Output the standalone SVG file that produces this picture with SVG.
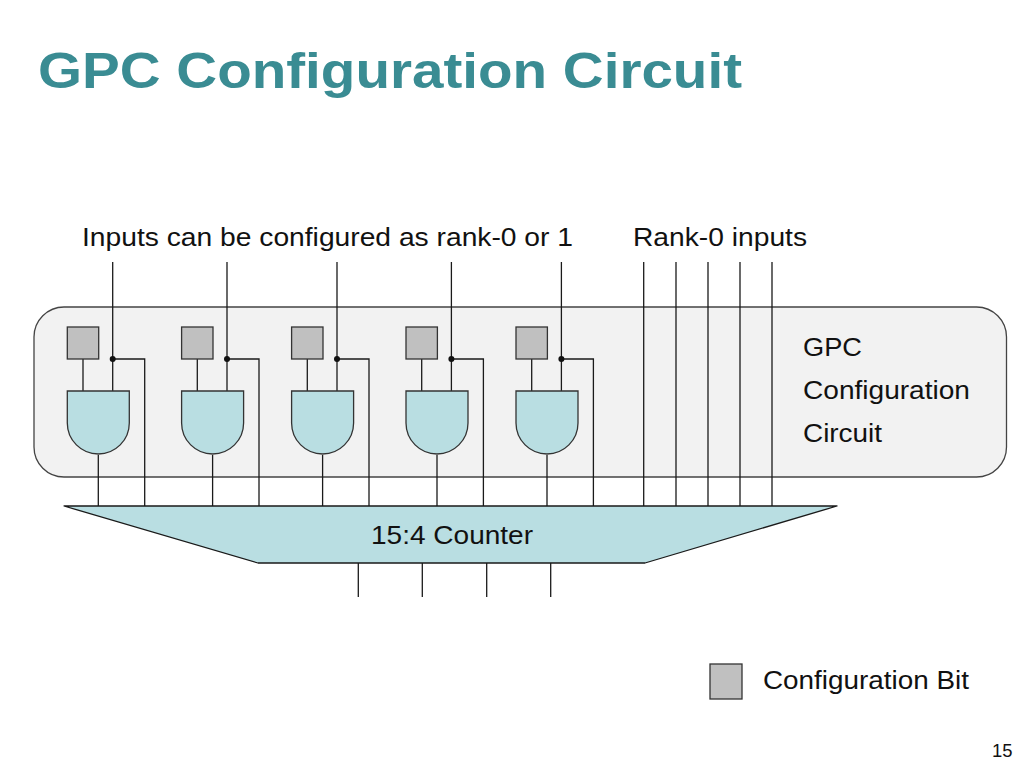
<svg xmlns="http://www.w3.org/2000/svg" width="1024" height="768" viewBox="0 0 1024 768">
<defs>
<style>
.t{font-family:"Liberation Sans",Arial,sans-serif;fill:#111;font-size:25px}
.title{font-family:"Liberation Sans",Arial,sans-serif;font-weight:bold;font-size:50px;fill:#3A8C93}
.w{stroke:#1a1a1a;stroke-width:1.3;fill:none}
.bit{fill:#C0C0C0;stroke:#333;stroke-width:1.3}
.gate{fill:#B9DEE2;stroke:#333;stroke-width:1.3}
</style>
<g id="unit">
<line class="w" x1="83" y1="359" x2="83" y2="391"/>
<line class="w" x1="112.7" y1="262" x2="112.7" y2="391"/>
<polyline class="w" points="112.7,359 144.7,359 144.7,506"/>
<line class="w" x1="98.3" y1="455" x2="98.3" y2="506"/>
<rect class="bit" x="67.3" y="327" width="31.4" height="32"/>
<path class="gate" d="M67.3,391 H129.3 V423 A31,31 0 0 1 67.3,423 Z"/>
<circle cx="112.7" cy="359" r="3" fill="#111"/>
</g>
</defs>
<rect width="1024" height="768" fill="#fff"/>
<text class="title" x="38" y="88" textLength="704" lengthAdjust="spacingAndGlyphs">GPC Configuration Circuit</text>
<text class="t" x="82" y="246" textLength="491" lengthAdjust="spacingAndGlyphs">Inputs can be configured as rank-0 or 1</text>
<text class="t" x="633" y="246" textLength="174" lengthAdjust="spacingAndGlyphs">Rank-0 inputs</text>
<g id="config-circuit">
<rect x="34" y="307" width="972.5" height="170" rx="30" ry="30" fill="#F2F2F2" stroke="#444" stroke-width="1.3"/>
<text class="t" x="803" y="356" textLength="59" lengthAdjust="spacingAndGlyphs">GPC</text>
<text class="t" x="803" y="399" textLength="167" lengthAdjust="spacingAndGlyphs">Configuration</text>
<text class="t" x="803" y="442" textLength="79" lengthAdjust="spacingAndGlyphs">Circuit</text>
</g>
<g id="counter">
<polygon points="64,506 837,506 645,563 258,563" fill="#B9DEE2" stroke="#1a1a1a" stroke-width="1.3" stroke-linejoin="round"/>
<text class="t" x="371" y="544" textLength="162" lengthAdjust="spacingAndGlyphs">15:4 Counter</text>
</g>
<g id="unit1"><use href="#unit"/></g>
<g id="unit2"><use href="#unit" transform="translate(114.3,0)"/></g>
<g id="unit3"><use href="#unit" transform="translate(224.3,0)"/></g>
<g id="unit4"><use href="#unit" transform="translate(338.7,0)"/></g>
<g id="unit5"><use href="#unit" transform="translate(448.7,0)"/></g>
<g id="connectors">
<line class="w" x1="643.7" y1="262" x2="643.7" y2="506"/>
<line class="w" x1="676" y1="262" x2="676" y2="506"/>
<line class="w" x1="708" y1="262" x2="708" y2="506"/>
<line class="w" x1="740" y1="262" x2="740" y2="506"/>
<line class="w" x1="772" y1="262" x2="772" y2="506"/>
<line class="w" x1="358.3" y1="563" x2="358.3" y2="597"/>
<line class="w" x1="422.3" y1="563" x2="422.3" y2="597"/>
<line class="w" x1="486.7" y1="563" x2="486.7" y2="597"/>
<line class="w" x1="550.7" y1="563" x2="550.7" y2="597"/>
</g>
<g id="legend">
<rect class="bit" x="710" y="664" width="32" height="35"/>
<text class="t" x="763" y="689" textLength="206" lengthAdjust="spacingAndGlyphs">Configuration Bit</text>
</g>
<text class="t" x="992" y="757" style="font-size:19px" textLength="20.5" lengthAdjust="spacingAndGlyphs">15</text>
</svg>
